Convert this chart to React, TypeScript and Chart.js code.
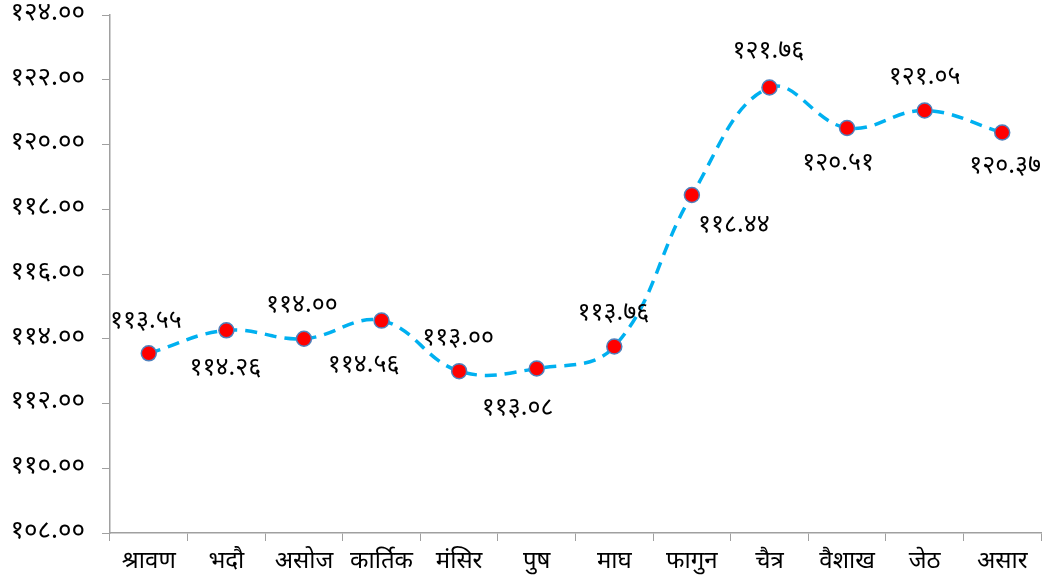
import React, { useEffect, useRef } from "react";
import { Chart, registerables } from "chart.js";

Chart.register(...registerables);

const categories = ["श्रावण", "भदौ", "असोज", "कार्तिक", "मंसिर", "पुष", "माघ", "फागुन", "चैत्र", "वैशाख", "जेठ", "असार"];
const values = [113.55, 114.26, 114.0, 114.56, 113.0, 113.08, 113.76, 118.44, 121.76, 120.51, 121.05, 120.37];
const yTicks = [108, 110, 112, 114, 116, 118, 120, 122, 124];
// label offsets (dx, dy) relative to each point
const labelDx = [-3, -1, -2, -18, -1, -19, -1, 42, -1, -9, 0, 3];
const labelDy = [-30, 40, -31, 47, -31, 42, -31, 32, -34, 37, -31, 36];

const DIGITS = ["०", "१", "२", "३", "४", "५", "६", "७", "८", "९"];
const toDev = (s: string) => s.replace(/[0-9]/g, (d) => DIGITS[+d]);

const FONT = "'Noto Sans Devanagari', 'Lohit Devanagari', 'Noto Sans', sans-serif";

const labelPlugin = {
  id: "pointLabels",
  afterDatasetsDraw(chart: any) {
    const ctx = chart.ctx;
    const meta = chart.getDatasetMeta(0);
    ctx.save();
    ctx.font = `25px ${FONT}`;
    ctx.fillStyle = "#000";
    ctx.textAlign = "center";
    ctx.textBaseline = "middle";
    meta.data.forEach((pt: any, i: number) => {
      ctx.fillText(toDev(values[i].toFixed(2)), pt.x + labelDx[i], pt.y + labelDy[i]);
    });
    ctx.restore();
  },
};

export default function App() {
  const ref = useRef<HTMLCanvasElement>(null);
  useEffect(() => {
    document.body.style.margin = "0";
    const chart = new Chart(ref.current!, {
      type: "line",
      data: {
        labels: categories,
        datasets: [
          {
            data: values,
            borderColor: "#00B0F0",
            borderWidth: 3.5,
            borderDash: [12, 8],
            tension: 0.4,
            pointRadius: 7.5,
            pointHoverRadius: 7.5,
            pointBackgroundColor: "#FF0000",
            pointBorderColor: "#4F81BD",
            pointBorderWidth: 1.5,
            fill: false,
          },
        ],
      },
      options: {
        animation: false,
        responsive: false,
        layout: { padding: { top: 15, right: 4, left: 0, bottom: 0 } },
        plugins: { legend: { display: false }, tooltip: { enabled: false } },
        scales: {
          x: {
            offset: true,
            grid: { offset: true, drawOnChartArea: false, tickLength: 8, color: "#A0A0A0" },
            border: { color: "#A0A0A0", width: 1.5 },
            ticks: { font: { size: 24, family: FONT }, color: "#000", padding: 8, maxRotation: 0 },
            afterFit: (s: any) => {
              s.height = 55;
              s.paddingLeft = 0;
              s.paddingRight = 0;
            },
          },
          y: {
            min: 108,
            max: 124,
            afterBuildTicks: (s: any) => {
              s.ticks = yTicks.map((v) => ({ value: v }));
            },
            grid: { drawOnChartArea: false, tickLength: 8, color: "#A0A0A0" },
            border: { color: "#A0A0A0", width: 1.5 },
            ticks: {
              font: { size: 26, family: FONT },
              color: "#000",
              padding: 17,
              callback: (v: any) => toDev(Number(v).toFixed(2)),
            },
            afterFit: (s: any) => {
              s.width = 110;
              s.paddingTop = 0;
              s.paddingBottom = 0;
            },
          },
        },
      },
      plugins: [labelPlugin],
    });
    return () => chart.destroy();
  }, []);
  return (
    <div style={{ width: 1050, height: 588 }}>
      <canvas ref={ref} width={1050} height={588} />
    </div>
  );
}
